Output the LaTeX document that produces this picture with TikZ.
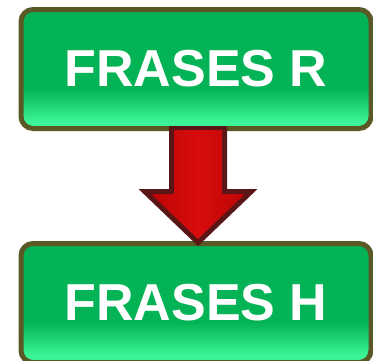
\documentclass[tikz,border=0pt]{standalone}
\usepackage{fontspec}
\setmainfont{Liberation Sans}
\usepackage{tikz}
\usetikzlibrary{calc}
\definecolor{rimolive}{HTML}{5A5926}
\definecolor{greenface}{HTML}{04B356}
\definecolor{greenmid}{HTML}{22D878}
\definecolor{greenlow}{HTML}{3CF498}
\definecolor{arrowrim}{HTML}{5A1616}
\definecolor{arrowred}{HTML}{D80C0C}
\definecolor{arrowdeep}{HTML}{BC0505}
\pgfdeclareverticalshading{frasegreen}{100bp}{color(0bp)=(greenlow); color(28bp)=(greenlow); color(34bp)=(greenmid); color(42bp)=(greenface); color(75bp)=(greenface); color(100bp)=(greenface)}
\pgfdeclarehorizontalshading{arrowface}{100bp}{color(0bp)=(arrowdeep); color(25bp)=(arrowdeep); color(50bp)=(arrowred); color(75bp)=(arrowdeep); color(100bp)=(arrowdeep)}
\tikzset{frase/.style = {shape = rectangle, rounded corners = 12pt, draw = rimolive, line width = 5pt, shading = frasegreen, minimum width = 350pt, minimum height = 119pt, text = white, font = \fontsize{52}{60}\selectfont\bfseries}}
\tikzset{arrowbody/.style = {fill = arrowrim}}
\tikzset{arrowtop/.style = {shading = arrowface}}

\begin{document}
\begin{tikzpicture}[x = 1pt, y = 1pt]
				\useasboundingbox (0, 0) rectangle (373, 360);

				\node[frase] (rtop) at (196, 291) {FRASES R};
				\node[frase] (rbot) at (196, 57) {FRASES H};

				\coordinate (a) at ($(rtop.south) + (2, 5)$);
				\coordinate (b) at ($(rbot.north) + (2, -5)$);

				\fill[arrowbody] ($(a) + (-29, 0)$) -- ($(a) + (29, 0)$) -- ($(b) + (29, 57)$) -- ($(b) + (59.5, 57)$) -- (b) -- ($(b) + (-59.5, 57)$) -- ($(b) + (-29, 57)$) -- cycle;
				\shade[arrowtop] ($(a) + (-24, -4)$) -- ($(a) + (24, -4)$) -- ($(b) + (24, 52)$) -- ($(b) + (47, 52)$) -- ($(b) + (0, 7)$) -- ($(b) + (-47, 52)$) -- ($(b) + (-24, 52)$) -- cycle;
			\end{tikzpicture}
\end{document}
